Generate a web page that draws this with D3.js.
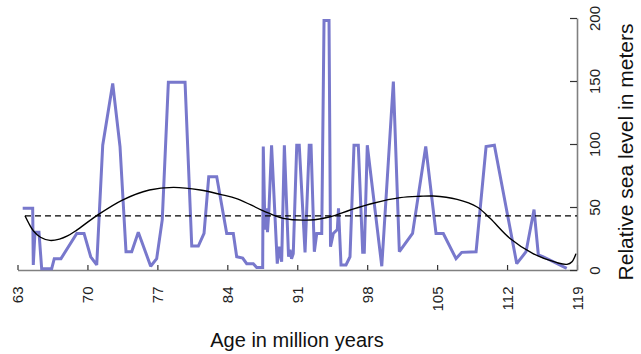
<!DOCTYPE html>
<html>
<head>
<meta charset="utf-8">
<script src="https://cdn.jsdelivr.net/npm/d3@7"></script>
<style>
  html, body { margin: 0; padding: 0; background: #fff; }
  svg { display: block; font-family: "Liberation Sans", Arial, sans-serif; }
</style>
</head>
<body>
<svg id="chart" width="641" height="354"></svg>
<script>
// Sea level record (age in Ma, relative sea level in m)
const seaAge = [63.52,64.52,64.58,64.75,65.15,65.42,66.42,66.68,67.35,68.93,69.66,70.33,70.93,71.53,72.53,73.26,73.86,74.43,75.09,76.33,76.93,77.49,78.1,79.77,80.44,81.1,81.67,82.14,82.94,83.94,84.6,84.94,85.54,85.94,86.6,86.94,87.54,87.6,87.77,87.92,88.02,88.17,88.43,89.0,89.17,89.44,89.71,90.13,90.28,90.43,90.6,90.95,91.2,91.78,92.2,92.38,92.71,92.95,93.45,93.68,94.18,94.33,94.61,95.01,95.13,95.38,95.88,96.28,96.68,97.11,97.55,97.71,98.01,99.46,100.62,101.22,102.54,103.86,104.89,105.62,106.89,107.46,108.9,109.9,110.73,112.97,113.9,114.7,115.13,115.63,117.97];
const seaLevel = [49,49,4,30,30,1,1,9,9,29,29,10.5,4,99,148,98,14.5,14.5,30,3,9,40,149,149,19,19,29,74,74,29,29,10.5,9.5,5,5,2,2,98,32,49,30,48,99,5,18.5,6.6,99,10.5,16,9,13,99,99,14,99,99,14.5,29,29,198,198,18.5,29,32,49,4,4,10.5,99,99,14,14,99,3,149.5,14.5,29,98,29,29,9,14,14.5,98,99,5,14.5,48,12,10.5,1.3];

// Smooth trend curve
const trendAge = [63.75,64.2,64.6,65.3,66.25,67.2,68.0,68.9,70.9,73.5,76.2,78.6,81.3,83.3,85.0,87.6,89.6,92.3,94.3,96.3,98.6,101.3,103.3,104.6,107.0,109.0,110.3,112.3,114.6,117.0,118.0,118.5,118.9];
const trendLevel = [43,36,31,26,23.5,24.5,27,31.5,43,55.5,63.5,65.6,63.5,60,56.5,47,41,39.7,42.3,47.6,53,57.4,58.5,58.7,56,50,41,25,13,5.8,4.5,6.6,13];

// Mean level (dashed)
const meanLevel = 43;
const meanStart = 63.75;

const xTicks = [63,70,77,84,91,98,105,112,119];
const yTicks = [0,50,100,150,200];

const svg = d3.select("#chart");
const x = d3.scaleLinear().domain([63,119]).range([17.5,577]);
const y = d3.scaleLinear().domain([0,200]).range([270,18]);

// axes
const xAxis = svg.append("g").attr("transform","translate(0,270)")
  .call(d3.axisBottom(x).tickValues(xTicks).tickSizeInner(-5).tickSizeOuter(0).tickFormat(d3.format("d")));
xAxis.selectAll("text")
  .attr("x",0).attr("y",0).attr("dy","0.35em")
  .attr("transform","translate(0,16.5) rotate(-90)")
  .attr("text-anchor","end");

const yAxis = svg.append("g").attr("transform","translate(577,0)")
  .call(d3.axisRight(y).tickValues(yTicks).tickSizeInner(-7).tickSizeOuter(0));
yAxis.selectAll("text")
  .attr("x",0).attr("y",0).attr("dy",null)
  .attr("transform","translate(22.5,0) rotate(-90)")
  .attr("text-anchor","middle");

[xAxis,yAxis].forEach(g=>{
  g.select(".domain").attr("stroke","#808080").attr("stroke-width",1.6);
  g.selectAll(".tick line").attr("stroke","#333").attr("stroke-width",1.2);
  g.selectAll("text").attr("fill","#222").style("font-size","15px").style("font-family","'Liberation Sans', Arial, sans-serif");
});

// data line
const seaData = seaAge.map((a,i)=>({a, v: seaLevel[i]}));
svg.append("path").datum(seaData)
  .attr("fill","none").attr("stroke","#7878cc").attr("stroke-width",3)
  .attr("stroke-linejoin","miter").attr("stroke-miterlimit",2)
  .attr("d", d3.line().x(d=>x(d.a)).y(d=>y(d.v)));

// dashed mean
svg.append("line")
  .attr("x1",x(meanStart)).attr("x2",x(119)).attr("y1",y(meanLevel)).attr("y2",y(meanLevel))
  .attr("stroke","#000").attr("stroke-width",1.3).attr("stroke-dasharray","6,4");

// trend
const trendData = trendAge.map((a,i)=>({a, v: trendLevel[i]}));
svg.append("path").datum(trendData)
  .attr("fill","none").attr("stroke","#000").attr("stroke-width",1.4)
  .attr("d", d3.line().curve(d3.curveCatmullRom).x(d=>x(d.a)).y(d=>y(d.v)));

// titles
svg.append("text").attr("x",297).attr("y",347).attr("text-anchor","middle")
  .style("font-size","20px").attr("fill","#111").text("Age in million years");
svg.append("text").attr("transform","translate(633,152) rotate(-90)").attr("text-anchor","middle")
  .style("font-size","21px").attr("fill","#111").text("Relative sea level in meters");
</script>
</body>
</html>
